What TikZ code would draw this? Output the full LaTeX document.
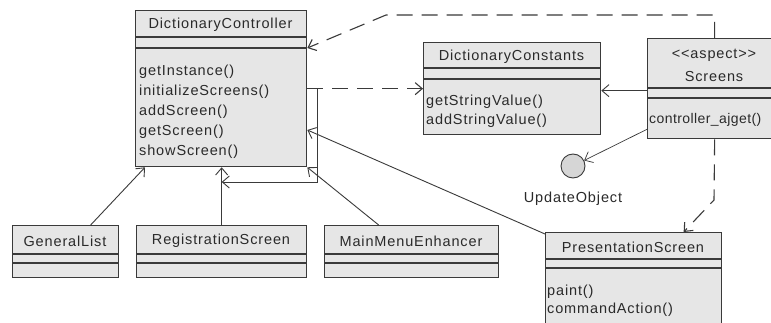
\documentclass[tikz,border=0pt]{standalone}
\usepackage{fontspec}
\setmainfont{Liberation Sans}[LetterSpace=6]
\usetikzlibrary{arrows.meta}
\definecolor{boxfill}{HTML}{E6E6E6}
\definecolor{linec}{HTML}{3A3A3A}
\definecolor{txtc}{HTML}{2A2A2A}
\definecolor{circfill}{HTML}{D6D6D6}
\begin{document}
\begin{tikzpicture}[x=1pt,y=-1pt,
  cls/.style={draw=linec, fill=boxfill, line width=1.3pt, rectangle, inner sep=0pt, anchor=north west},
  ttl/.style={text=txtc, font=\fontsize{14.5}{17}\selectfont, inner sep=0pt, anchor=center},
  mth/.style={text=txtc, font=\fontsize{14.5}{20}\selectfont, inner sep=0pt, anchor=west},
  sep/.style={draw=linec, line width=1.3pt},
  conn/.style={draw=linec, line width=0.9pt},
  dsh/.style={draw=linec, line width=1.1pt, dash pattern=on 16pt off 9pt},
  arr/.style={-{Straight Barb[length=7pt,width=12pt]}}
]
\useasboundingbox (0,0) rectangle (771,323);
\clip (0,0) rectangle (771,323);
\fill[white] (0,0) rectangle (771,323);

% DictionaryController
\node[cls, minimum width=171pt, minimum height=156pt] (dc) at (135,10) {};
\node[ttl] (dct) at (220.5,25) {DictionaryController};
\draw[sep] ([yshift=-27pt]dc.north west) -- ([yshift=-27pt]dc.north east);
\draw[sep] ([yshift=-38pt]dc.north west) -- ([yshift=-38pt]dc.north east);
\node[mth] (dcm1) at (139,72) {getInstance()};
\node[mth] (dcm2) at (139,92) {initializeScreens()};
\node[mth] (dcm3) at (139,112) {addScreen()};
\node[mth] (dcm4) at (139,132) {getScreen()};
\node[mth] (dcm5) at (139,152) {showScreen()};

% DictionaryConstants
\node[cls, minimum width=177pt, minimum height=92pt] (dcon) at (423,42) {};
\node[ttl] (dcont) at (511.5,57) {DictionaryConstants};
\draw[sep] ([yshift=-26pt]dcon.north west) -- ([yshift=-26pt]dcon.north east);
\draw[sep] ([yshift=-37pt]dcon.north west) -- ([yshift=-37pt]dcon.north east);
\node[mth] (dconm1) at (426,102) {getStringValue()};
\node[mth] (dconm2) at (426,121) {addStringValue()};

% Screens
\node[cls, minimum width=134pt, minimum height=100pt] (scr) at (647,38) {};
\node[ttl] (scrs) at (714,55) {{<}{<}aspect{>}{>}};
\node[ttl] (scrt) at (714,77) {Screens};
\draw[sep] ([yshift=-50pt]scr.north west) -- ([yshift=-50pt]scr.north east);
\draw[sep] ([yshift=-60pt]scr.north west) -- ([yshift=-60pt]scr.north east);
\node[mth, font=\fontsize{14}{20}\selectfont\addfontfeature{LetterSpace=3}] (scrm1) at (649,120) {controller\_ajget()};

% UpdateObject
\node[circle, draw=linec, fill=circfill, line width=0.9pt, minimum size=24pt, inner sep=0pt] (uo) at (573,166) {};
\node[ttl] (uol) at (573,199) {UpdateObject};

% PresentationScreen
\node[cls, minimum width=176pt, minimum height=110pt] (ps) at (545,232) {};
\node[ttl] (pst) at (633,247) {PresentationScreen};
\draw[sep] ([yshift=-27pt]ps.north west) -- ([yshift=-27pt]ps.north east);
\draw[sep] ([yshift=-36pt]ps.north west) -- ([yshift=-36pt]ps.north east);
\node[mth] (psm1) at (547,292) {paint()};
\node[mth] (psm2) at (547,310) {commandAction()};

% GeneralList
\node[cls, minimum width=106pt, minimum height=52pt] (gl) at (12,225) {};
\node[ttl] (glt) at (65,241) {GeneralList};
\draw[sep] ([yshift=-29pt]gl.north west) -- ([yshift=-29pt]gl.north east);
\draw[sep] ([yshift=-38pt]gl.north west) -- ([yshift=-38pt]gl.north east);

% RegistrationScreen
\node[cls, minimum width=170pt, minimum height=52pt] (reg) at (136,225) {};
\node[ttl] (regt) at (221,241) {RegistrationScreen};
\draw[sep] ([yshift=-29pt]reg.north west) -- ([yshift=-29pt]reg.north east);
\draw[sep] ([yshift=-38pt]reg.north west) -- ([yshift=-38pt]reg.north east);

% MainMenuEnhancer
\node[cls, minimum width=174pt, minimum height=52pt] (mme) at (324,225) {};
\node[ttl] (mmet) at (411,241) {MainMenuEnhancer};
\draw[sep] ([yshift=-29pt]mme.north west) -- ([yshift=-29pt]mme.north east);
\draw[sep] ([yshift=-38pt]mme.north west) -- ([yshift=-38pt]mme.north east);

% connectors
\coordinate (tbend) at (386,15);
\coordinate (loopc) at (317,182);
\coordinate (sbend) at (714,200);

\draw[dsh, arr] (scr.north) |- (tbend) -- ([yshift=-38pt]dc.north east);
\draw[dsh, arr] (dc.east) -- (dcon.west);
\draw[conn, arr] (dc.east) -| (loopc) -- (loopc -| reg.north);
\draw[conn, arr] ([yshift=-2pt]scr.west) -- ([yshift=-2pt]dcon.east);
\draw[conn, line width=0.7pt, arr] ([yshift=10pt]scr.south west) -- (uo);
\draw[dsh, arr] (scr.south) -- (sbend) -- ([xshift=50pt]ps.north);
\draw[conn, arr] ([yshift=-2pt]ps.north west) -- ([yshift=-120pt]dc.north east);
\draw[conn, arr] ([xshift=-33pt]mme.north) -- (dc.south east);
\draw[conn, arr] ([xshift=25pt]gl.north) -- ([xshift=10pt]dc.south west);
\draw[conn, arr] (reg.north) -- (reg.north |- dc.south);
\end{tikzpicture}
\end{document}
